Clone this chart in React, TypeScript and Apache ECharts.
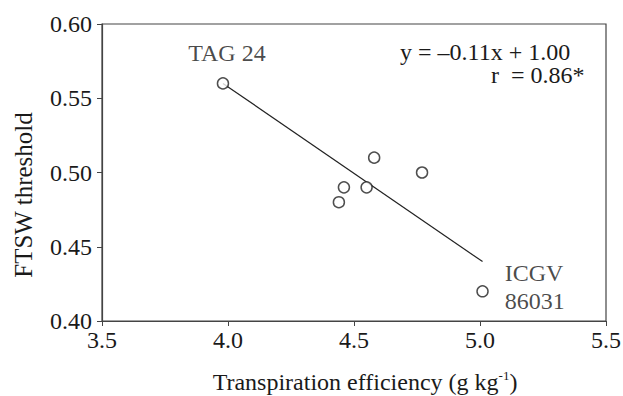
import React, { useEffect, useRef } from "react";
import * as echarts from "echarts";

const genotypes = ["TAG 24", "", "", "", "", "", "ICGV\n86031"];
const teValues = [3.98, 4.58, 4.77, 4.46, 4.55, 4.44, 5.01];
const ftswValues = [0.56, 0.51, 0.5, 0.49, 0.49, 0.48, 0.42];
const fitLineX = [3.98, 5.01];
const fitLineY = [0.56, 0.44];
const xTicks = [3.5, 4.0, 4.5, 5.0, 5.5];
const yTicks = [0.4, 0.45, 0.5, 0.55, 0.6];
const equationText = "y = \u20130.11x + 1.00";
const rText = "r  = 0.86*";
const yTitle = "FTSW threshold";

const FONT = '"Liberation Serif", "Times New Roman", serif';
const INK = "#1a1a1a";
const FS = 24;

export default function App() {
  const ref = useRef<HTMLDivElement>(null);
  useEffect(() => {
    if (!ref.current) return;
    document.body.style.margin = "0";
    const chart = echarts.init(ref.current, undefined, { renderer: "svg" });
    const scatterData = teValues.map((x, i) => ({
      value: [x, ftswValues[i]],
      label: genotypes[i]
        ? i === 0
          ? {
              show: true,
              position: "top",
              distance: 12,
              offset: [4, 0],
              formatter: genotypes[i],
            }
          : {
              show: true,
              position: "right",
              distance: 16,
              align: "left",
              lineHeight: 28,
              offset: [0, -4],
              formatter: genotypes[i],
            }
        : { show: false },
    }));
    chart.setOption({
      animation: false,
      textStyle: { fontFamily: FONT, color: INK },
      grid: {
        left: 102,
        right: 17,
        top: 24,
        bottom: 75,
        containLabel: false,
        outerBoundsMode: "none",
        show: true,
        borderColor: "#444",
        borderWidth: 1.2,
        backgroundColor: "transparent",
      },
      xAxis: {
        type: "value",
        min: xTicks[0],
        max: xTicks[xTicks.length - 1],
        interval: 0.5,
        splitLine: { show: false },
        axisLine: { lineStyle: { color: "#444", width: 1.2 } },
        axisTick: { show: true, length: 5, lineStyle: { color: "#444" } },
        axisLabel: {
          fontSize: FS,
          color: INK,
          fontFamily: FONT,
          margin: 7,
          formatter: (v: number) => v.toFixed(1),
        },
        name: "{a|Transpiration efficiency (g kg}{s|-1}{a|)}",
        nameLocation: "middle",
        nameGap: 48,
        nameTextStyle: {
          padding: [0, 0, 0, 22],
          rich: {
            a: { fontSize: FS, fontFamily: FONT, color: INK, lineHeight: 26 },
            s: {
              fontSize: 13,
              fontFamily: FONT,
              color: INK,
              verticalAlign: "top",
              lineHeight: 26,
              padding: [0, 0, 10, 0],
            },
          },
        },
      },
      yAxis: {
        type: "value",
        min: yTicks[0],
        max: yTicks[yTicks.length - 1],
        interval: 0.05,
        splitLine: { show: false },
        axisLine: { lineStyle: { color: "#444", width: 1.2 } },
        axisTick: { show: true, length: 5, lineStyle: { color: "#444" } },
        axisLabel: {
          fontSize: FS,
          color: INK,
          fontFamily: FONT,
          margin: 10,
          formatter: (v: number) => v.toFixed(2),
        },
      },
      series: [
        {
          type: "line",
          data: fitLineX.map((x, i) => [x, fitLineY[i]]),
          symbol: "none",
          lineStyle: { color: "#222", width: 1.2 },
          z: 1,
          silent: true,
        },
        {
          type: "scatter",
          data: scatterData,
          symbol: "circle",
          symbolSize: 11,
          itemStyle: { color: "#fff", borderColor: "#222", borderWidth: 1.5 },
          label: { fontSize: FS, fontFamily: FONT, color: INK },
          z: 3,
        },
      ],
      graphic: [
        {
          type: "text",
          left: 400,
          top: 40,
          style: { text: equationText, fontSize: FS, fontFamily: FONT, fill: INK },
        },
        {
          type: "text",
          left: 491,
          top: 63,
          style: { text: rText, fontSize: FS, fontFamily: FONT, fill: INK },
        },
        {
          type: "text",
          x: 23,
          y: 195,
          rotation: Math.PI / 2,
          style: {
            text: yTitle,
            fontSize: 25,
            fontFamily: FONT,
            fill: INK,
            align: "center",
            verticalAlign: "middle",
          },
        },
      ],
    });
    return () => chart.dispose();
  }, []);
  return <div ref={ref} style={{ width: 623, height: 396 }} />;
}
